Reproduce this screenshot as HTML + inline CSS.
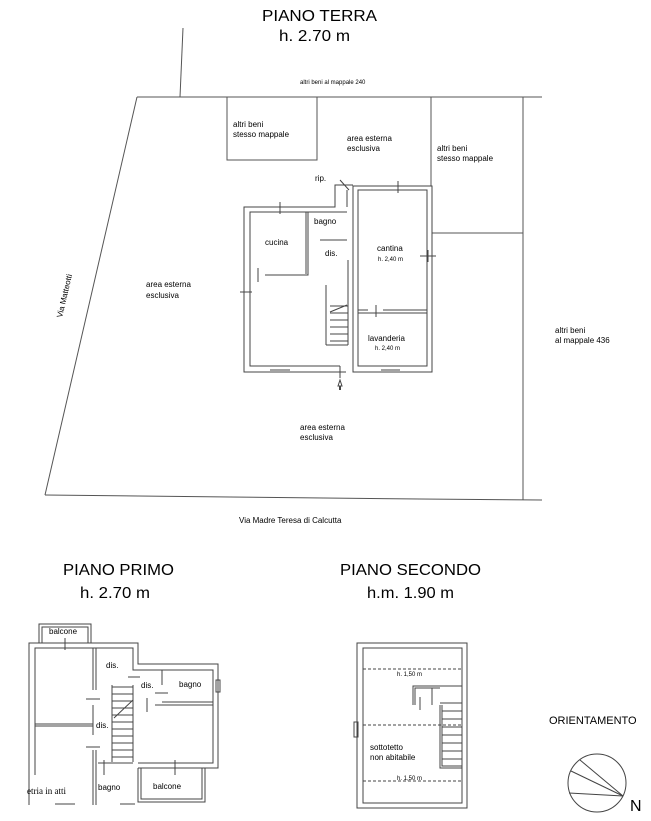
<!DOCTYPE html>
<html><head><meta charset="utf-8"><style>
html,body{margin:0;padding:0;background:#fff;}
svg{display:block;}
text{font-family:"Liberation Sans",Arial,sans-serif;fill:#000;}
.s{font-size:8px;}
.xs{font-size:6px;}
.t{font-size:16px;}
</style></head><body>
<svg width="651" height="821" viewBox="0 0 651 821" xmlns="http://www.w3.org/2000/svg">
<g fill="none" stroke="#555" stroke-width="1">
<line x1="183" y1="28" x2="180" y2="97"/>
<line x1="137" y1="97" x2="542" y2="97"/>
<line x1="137" y1="97" x2="45" y2="495"/>
<polyline points="45,495 230,497 420,499 542,500"/>
<line x1="523" y1="97" x2="523" y2="500"/>
<rect x="227" y="97" width="90" height="63"/>
<line x1="431" y1="97" x2="431" y2="186"/>
<line x1="432" y1="233" x2="523" y2="233"/>
</g>
<g fill="none" stroke="#444" stroke-width="1">
<polyline points="326,207 244,207 244,372 346,372"/>
<polyline points="307,212 250,212 250,366 340,366"/>
<rect x="353" y="186" width="79" height="186"/>
<rect x="358" y="190" width="69" height="176"/>
<polyline points="326,207 335,207 335,185 353,185"/>
<line x1="347" y1="190" x2="347" y2="207"/>
<line x1="307" y1="212" x2="347" y2="212"/>
<polyline points="308,212 308,275 265,275"/>
<line x1="306" y1="212" x2="306" y2="274"/>
<line x1="320" y1="240" x2="347" y2="240"/>
<line x1="326" y1="285" x2="326" y2="345"/>
<line x1="348" y1="260" x2="348" y2="345"/>
<line x1="326" y1="345" x2="348" y2="345"/>
<line x1="358" y1="310" x2="368" y2="310"/>
<line x1="383" y1="310" x2="427" y2="310"/>
<line x1="358" y1="313" x2="427" y2="313"/>
<line x1="376" y1="305" x2="376" y2="317"/>
<line x1="330" y1="306" x2="348" y2="306"/><line x1="330" y1="313" x2="348" y2="313"/><line x1="330" y1="320" x2="348" y2="320"/><line x1="330" y1="327" x2="348" y2="327"/><line x1="330" y1="334" x2="348" y2="334"/><line x1="330" y1="341" x2="348" y2="341"/>
<line x1="330" y1="312" x2="347" y2="305"/>
<line x1="240" y1="292" x2="252" y2="292"/><line x1="244" y1="285" x2="244" y2="300"/>
<line x1="280" y1="202" x2="280" y2="214"/>
<line x1="398" y1="181" x2="398" y2="193"/>
<line x1="420" y1="256" x2="436" y2="256"/><line x1="428" y1="250" x2="428" y2="262"/>
<line x1="258" y1="268" x2="258" y2="282"/>
<line x1="340" y1="366" x2="340" y2="378"/>
<line x1="340" y1="180" x2="349" y2="190"/>
<line x1="270" y1="370" x2="290" y2="370"/><line x1="381" y1="370" x2="400" y2="370"/>
<path d="M338,386 L340,380 L342,386 Z M339.5,386 L339.5,390 M340.5,386 L340.5,390"/>
</g>
<text x="262" y="21" class="t" textLength="115" lengthAdjust="spacingAndGlyphs">PIANO TERRA</text>
<text x="279" y="41" class="t" textLength="71" lengthAdjust="spacingAndGlyphs">h. 2.70 m</text>
<text x="300" y="84" class="xs">altri beni al mappale 240</text>
<text x="233" y="127" class="s">altri beni</text><text x="233" y="137" class="s">stesso mappale</text>
<text x="347" y="141" class="s">area esterna</text><text x="347" y="151" class="s">esclusiva</text>
<text x="437" y="151" class="s">altri beni</text><text x="437" y="161" class="s">stesso mappale</text>
<text x="315" y="181" class="s">rip.</text>
<text x="314" y="224" class="s">bagno</text>
<text x="265" y="245" class="s">cucina</text>
<text x="325" y="256" class="s">dis.</text>
<text x="377" y="251" class="s">cantina</text>
<text x="378" y="261" class="xs">h. 2,40 m</text>
<text x="368" y="341" class="s">lavanderia</text>
<text x="375" y="350" class="xs">h. 2,40 m</text>
<text x="146" y="287" class="s">area esterna</text><text x="146" y="298" class="s">esclusiva</text>
<text x="300" y="430" class="s">area esterna</text><text x="300" y="440" class="s">esclusiva</text>
<text x="555" y="333" class="s">altri beni</text><text x="555" y="343" class="s">al mappale 436</text>
<text x="0" y="0" class="s" transform="translate(62,318) rotate(-77)">Via Matteotti</text>
<text x="239" y="523" class="s">Via Madre Teresa di Calcutta</text>
<text x="63" y="575" class="t" textLength="111" lengthAdjust="spacingAndGlyphs">PIANO PRIMO</text>
<text x="80" y="598" class="t" textLength="70" lengthAdjust="spacingAndGlyphs">h. 2.70 m</text>
<text x="340" y="575" class="t" textLength="141" lengthAdjust="spacingAndGlyphs">PIANO SECONDO</text>
<text x="367" y="598" class="t" textLength="87" lengthAdjust="spacingAndGlyphs">h.m. 1.90 m</text>
<g fill="none" stroke="#444" stroke-width="1">
<rect x="39" y="624" width="52" height="19"/><rect x="42" y="627" width="46" height="16"/>
<polyline points="29,805 29,643 138,643 138,664 218,664 218,768 138,768"/>
<polyline points="35,775 35,648 133,648 133,670 213,670 213,763 138,763"/>
<line x1="35" y1="726" x2="93" y2="726"/>
<line x1="35" y1="724" x2="93" y2="724"/>
<line x1="93" y1="648" x2="93" y2="690"/><line x1="96" y1="648" x2="96" y2="690"/>
<line x1="93" y1="705" x2="93" y2="735"/><line x1="93" y1="750" x2="93" y2="805"/><line x1="96" y1="750" x2="96" y2="805"/>
<line x1="112" y1="685" x2="112" y2="762"/><line x1="133" y1="685" x2="133" y2="762"/>
<line x1="112" y1="687" x2="133" y2="687"/>
<line x1="112" y1="694" x2="133" y2="694"/><line x1="112" y1="701" x2="133" y2="701"/><line x1="112" y1="708" x2="133" y2="708"/><line x1="112" y1="715" x2="133" y2="715"/><line x1="112" y1="722" x2="133" y2="722"/><line x1="112" y1="729" x2="133" y2="729"/><line x1="112" y1="736" x2="133" y2="736"/><line x1="112" y1="743" x2="133" y2="743"/><line x1="112" y1="750" x2="133" y2="750"/><line x1="112" y1="757" x2="133" y2="757"/>
<line x1="114" y1="718" x2="133" y2="700"/>
<line x1="162" y1="670" x2="162" y2="685"/><line x1="162" y1="702" x2="213" y2="702"/><line x1="155" y1="705" x2="213" y2="705"/>
<line x1="98" y1="763" x2="133" y2="763"/>
<line x1="86" y1="699" x2="100" y2="699"/><line x1="86" y1="747" x2="100" y2="747"/>
<line x1="128" y1="677" x2="140" y2="677"/><line x1="155" y1="693" x2="168" y2="693"/>
<line x1="147" y1="698" x2="147" y2="712"/><line x1="104" y1="760" x2="104" y2="775"/>
<line x1="65" y1="638" x2="65" y2="650"/><line x1="175" y1="760" x2="175" y2="775"/>
<polyline points="138,768 138,802 205,802 205,768"/><polyline points="141,768 141,799 202,799 202,768"/>
<rect x="216" y="680" width="4" height="12"/>
<line x1="55" y1="804" x2="75" y2="804"/><line x1="120" y1="804" x2="135" y2="804"/>
</g>
<text x="49" y="634" class="s">balcone</text>
<text x="106" y="668" class="s">dis.</text>
<text x="141" y="688" class="s">dis.</text>
<text x="179" y="687" class="s">bagno</text>
<text x="96" y="728" class="s">dis.</text>
<text x="98" y="790" class="s">bagno</text>
<text x="153" y="789" class="s">balcone</text>
<text x="27" y="794" style="font-family:'Liberation Serif',serif;font-size:9px">etria in atti</text>
<g fill="none" stroke="#444" stroke-width="1">
<rect x="357" y="643" width="110" height="165"/>
<rect x="363" y="648" width="99" height="155"/>
<line x1="363" y1="669" x2="462" y2="669" stroke-dasharray="3,2"/>
<line x1="363" y1="725" x2="462" y2="725" stroke-dasharray="3,2"/>
<line x1="363" y1="781" x2="462" y2="781" stroke-dasharray="3,2"/>
<polyline points="413,705 413,686 462,686"/><polyline points="415,705 415,688 440,688"/>
<polyline points="442,705 442,766 462,766"/><polyline points="440,705 440,768 462,768"/>
<line x1="440" y1="703" x2="462" y2="703"/>
<line x1="442" y1="711" x2="462" y2="711"/><line x1="442" y1="719" x2="462" y2="719"/><line x1="442" y1="727" x2="462" y2="727"/><line x1="442" y1="735" x2="462" y2="735"/><line x1="442" y1="743" x2="462" y2="743"/><line x1="442" y1="751" x2="462" y2="751"/><line x1="442" y1="759" x2="462" y2="759"/>
<line x1="432" y1="688" x2="432" y2="705"/>
<line x1="420" y1="697" x2="420" y2="710"/>
<rect x="354" y="722" width="4" height="15"/>
<circle cx="597" cy="783" r="29"/>
<line x1="571" y1="771" x2="623" y2="796"/>
<line x1="580" y1="760" x2="623" y2="796"/>
<line x1="569" y1="793" x2="623" y2="796"/>
</g>
<text x="397" y="676" class="xs">h. 1,50 m</text>
<text x="397" y="780" class="xs">h. 1,50 m</text>
<text x="370" y="750" class="s">sottotetto</text>
<text x="370" y="760" class="s">non abitabile</text>
<text x="549" y="724" style="font-size:11px">ORIENTAMENTO</text>
<text x="630" y="811" style="font-size:16px">N</text>
</svg>
</body></html>
